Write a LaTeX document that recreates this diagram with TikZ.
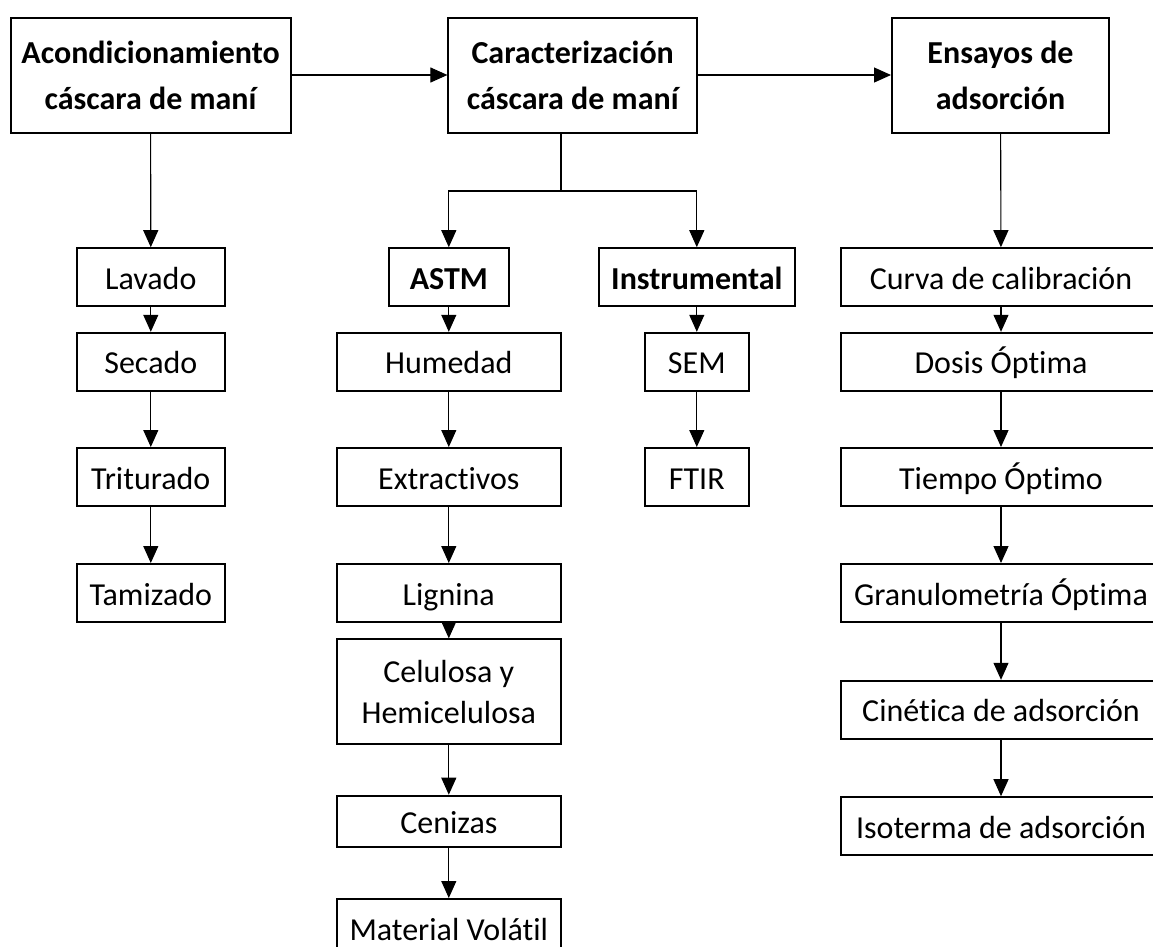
\documentclass[tikz,border=0pt]{standalone}
\usepackage{fontspec}
\setmainfont{Carlito}[Ligatures={NoCommon,NoRare,NoRequired,NoContextual},Contextuals=NoAlternate]
\usetikzlibrary{arrows.meta}
\tikzset{every picture/.style={line width=1.1pt}}
\tikzset{
  box/.style={draw, line width=2pt, inner sep=4pt, align=center,
    minimum height=58pt, font=\fontsize{32}{46}\selectfont},
  item/.style={box, text height=30pt, text depth=6pt},
  stage/.style={box, minimum height=115pt, font=\fontsize{32}{46}\selectfont\bfseries},
  flow/.style={-{Triangle[length=17pt,width=15pt]}},
}

\begin{document}
\begin{tikzpicture}[x=1pt,y=1pt,yscale=-1,xscale=1]
		\useasboundingbox (0,0) rectangle (1153,946);
		
		%Shape: Rectangle (main stages)
		\node[stage, minimum width=280pt] (acond) at (150.6,75) {Acondicionamiento\\cáscara de maní};
		\node[stage, minimum width=248.6pt] (carac) at (572.7,75) {Caracterización\\cáscara de maní};
		\node[stage, minimum width=217pt] (ensayos) at (1000.5,75) {Ensayos de\\adsorción};
		
		%Shape: Rectangle (acondicionamiento)
		\node[item, minimum width=148.4pt] (lavado) at (150.8,277.2) {Lavado};
		\node[item, minimum width=148.4pt] (secado) at (150.8,361.8) {Secado};
		\node[item, minimum width=148.4pt] (triturado) at (150.8,477) {Triturado};
		\node[item, minimum width=148.4pt] (tamizado) at (150.8,593) {Tamizado};
		
		%Shape: Rectangle (ASTM)
		\node[item, minimum width=120.5pt, font=\fontsize{32}{46}\selectfont\bfseries] (astm) at (448.8,277.2) {ASTM};
		\node[item, minimum width=224.2pt] (humedad) at (448.8,361.8) {Humedad};
		\node[item, minimum width=224.2pt] (extract) at (448.8,477) {Extractivos};
		\node[item, minimum width=224.2pt] (lignina) at (448.8,593) {Lignina};
		\node[box, minimum width=224.2pt, minimum height=104.7pt, font=\fontsize{32}{41}\selectfont] (celulosa) at (448.8,691.7) {Celulosa y\\Hemicelulosa};
		\node[item, minimum width=224.2pt, minimum height=51.6pt] (cenizas) at (448.8,821.5) {Cenizas};
		\node[item, minimum width=224.2pt] (volatil) at (448.8,928) {Material Volátil};
		
		%Shape: Rectangle (instrumental)
		\node[item, minimum width=196.4pt, font=\fontsize{32}{46}\selectfont\bfseries] (instr) at (696.8,277.2) {Instrumental};
		\node[item, minimum width=104.3pt] (sem) at (696.8,361.8) {SEM};
		\node[item, minimum width=104.3pt] (ftir) at (696.8,477) {FTIR};
		
		%Shape: Rectangle (ensayos)
		\node[item, minimum width=321pt] (curva) at (1001,277.2) {Curva de calibración};
		\node[item, minimum width=321pt] (dosis) at (1001,361.8) {Dosis Óptima};
		\node[item, minimum width=321pt] (tiempo) at (1001,477) {Tiempo Óptimo};
		\node[item, minimum width=321pt] (granulo) at (1001,593) {Granulometría Óptima};
		\node[item, minimum width=321pt] (cinetica) at (1001,709.8) {Cinética de adsorción};
		\node[item, minimum width=321pt] (isoterma) at (1001,826.2) {Isoterma de adsorción};
		
		%Straight Lines (top row)
		\draw[flow] (acond) -- (carac);
		\draw[flow] (carac) -- (ensayos);
		
		%Straight Lines (left column)
		\draw[flow] (acond) -- (lavado);
		\draw[flow] (lavado) -- (secado);
		\draw[flow] (secado) -- (triturado);
		\draw[flow] (triturado) -- (tamizado);
		
		%Straight Lines (branch)
		\coordinate (split) at (561,191);
		\draw (carac.south -| split) -- (split);
		\draw[flow] (split) -| (astm.north);
		\draw[flow] (split) -| (instr.north);
		
		%Straight Lines (ASTM column)
		\draw[flow] (astm) -- (humedad);
		\draw[flow] (humedad) -- (extract);
		\draw[flow] (extract) -- (lignina);
		\draw[flow] (lignina) -- (celulosa);
		\draw[flow] (celulosa) -- (cenizas);
		\draw[flow] (cenizas) -- (volatil);
		
		%Straight Lines (instrumental column)
		\draw[flow] (instr) -- (sem);
		\draw[flow] (sem) -- (ftir);
		
		%Straight Lines (right column)
		\draw[flow] (ensayos) -- (curva);
		\draw[flow] (curva) -- (dosis);
		\draw[flow] (dosis) -- (tiempo);
		\draw[flow] (tiempo) -- (granulo);
		\draw[flow] (granulo) -- (cinetica);
		\draw[flow] (cinetica) -- (isoterma);
		
\end{tikzpicture}
\end{document}
